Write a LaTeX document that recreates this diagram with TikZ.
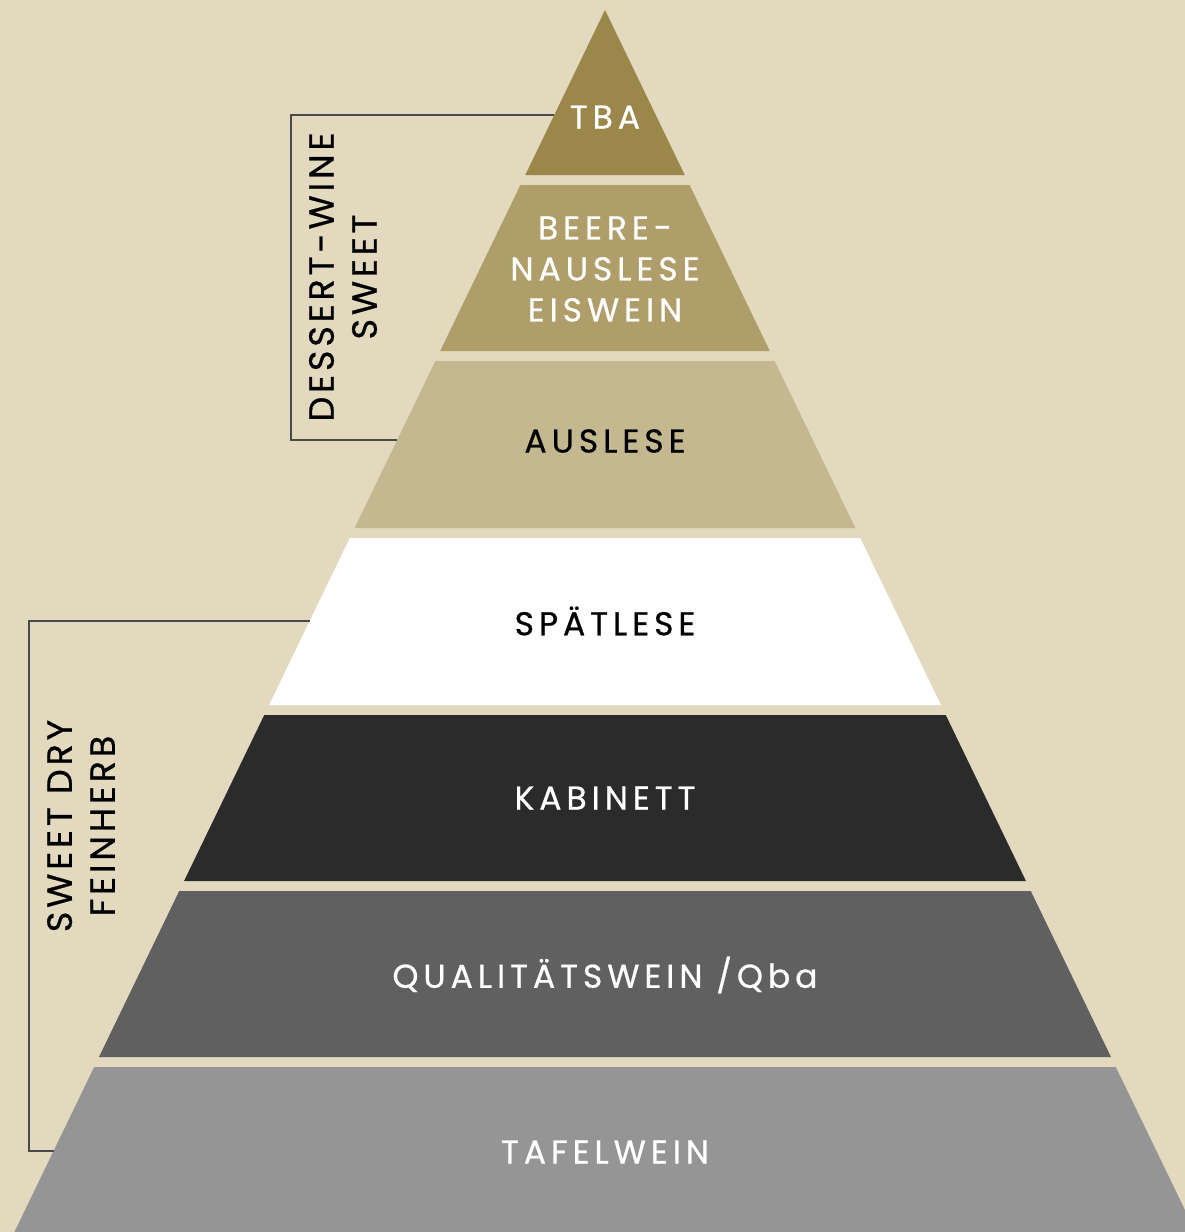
\documentclass[tikz,border=0pt]{standalone}
\usepackage{fontspec}
\usepackage{tikz}
\newfontfamily\tierfont{Poppins}[LetterSpace=15, FakeBold=0.7]
\newfontfamily\sidefont{Poppins}[LetterSpace=11, FakeBold=0.7]
\usetikzlibrary{calc}

\definecolor{bgcream}{HTML}{E2D9BE}
\definecolor{tbacol}{HTML}{9A8749}
\definecolor{beerecol}{HTML}{AF9E69}
\definecolor{auslesecol}{HTML}{C4B891}
\definecolor{spaetcol}{HTML}{FFFFFF}
\definecolor{kabcol}{HTML}{2B2B2B}
\definecolor{qbacol}{HTML}{606060}
\definecolor{tafelcol}{HTML}{959595}
\definecolor{bracketcol}{HTML}{4A4A4A}

% left edge of the pyramid at height y
\newcommand{\edgex}[1]{605-0.4833*(#1-10)}

\begin{document}
\begin{tikzpicture}[x=1pt, y=-1pt,
    tierlabel/.style={font=\tierfont\fontsize{33}{41}\selectfont, text=#1, align=center, inner sep=0pt},
    sidelabel/.style={font=\sidefont\fontsize{35}{43}\selectfont, text=black, align=center, rotate=90, inner sep=0pt},
    bracket/.style={draw=bracketcol, line width=1.2pt}]

    \fill[bgcream] (0,0) rectangle (1185,1232);
    \clip (0,0) rectangle (1185,1232);

    \foreach \n/\top/\bot/\col/\txt/\ly/\lbl in {
        1/10/175/tbacol/white/117/TBA,
        2/185/351/beerecol/white/269/{BEERE-\\NAUSLESE\\EISWEIN},
        3/361/528/auslesecol/black/441/AUSLESE,
        4/538/705/spaetcol/black/621/SPÄTLESE,
        5/715/881/kabcol/white/798/KABINETT,
        6/891/1057/qbacol/white/975/{QUALITÄTSWEIN /Qba},
        7/1067/1245/tafelcol/white/1152/TAFELWEIN} {
        \pgfmathsetmacro\tl{\edgex{\top}}
        \pgfmathsetmacro\bl{\edgex{\bot}}
        \fill[\col] (\tl,\top) -- ({1210-\tl},\top) -- ({1210-\bl},\bot) -- (\bl,\bot) -- cycle;
        \node[tierlabel=\txt] (tier\n) at (605,\ly) {\lbl};
    }

    % dessert-wine bracket
    \pgfmathsetmacro\ya{\edgex{115}}
    \pgfmathsetmacro\yb{\edgex{440}}
    \coordinate (dw top) at (\ya,115);
    \coordinate (dw bot) at (\yb,440);
    \draw[bracket] (dw top) -- (291,115) -- (291,440) -- (dw bot);
    \node[sidelabel] (dessert) at (343,277) {DESSERT-WINE\\SWEET};

    % sweet/dry bracket
    \pgfmathsetmacro\yc{\edgex{621}}
    \pgfmathsetmacro\yd{\edgex{1151}}
    \coordinate (sd top) at (\yc,621);
    \coordinate (sd bot) at (\yd,1151);
    \draw[bracket] (sd top) -- (29,621) -- (29,1151) -- (sd bot);
    \node[sidelabel] (sweetdry) at (81,826) {SWEET DRY\\FEINHERB};

\end{tikzpicture}
\end{document}
